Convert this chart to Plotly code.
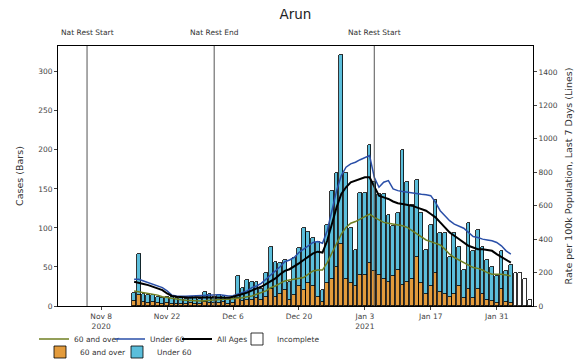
import pandas as pd
import plotly.graph_objects as go

# ---- data ----
bar_dates = pd.date_range("2020-11-15", "2021-02-03").strftime("%Y-%m-%d").tolist()
incomplete_dates = pd.date_range("2021-02-04", "2021-02-07").strftime("%Y-%m-%d").tolist()

over60_cases = [6, 14, 5, 4, 5, 4, 3, 4, 3, 3, 3, 2, 4, 3, 3, 5,
                4, 4, 4, 5, 3, 4, 10, 6, 8, 8, 10, 8, 12, 22, 12, 15, 20, 8, 14, 25, 20, 30, 25, 12, 5, 30, 35, 50, 80, 35, 30,
                25, 40, 40, 55, 45, 40, 35, 31, 38, 46, 27, 31, 35, 63, 30, 15, 25, 42, 18, 15, 12, 15, 25, 10, 22, 10, 22, 15, 8, 6, 4,
                22, 5, 4]
under60_cases = [11, 53, 10, 10, 9, 8, 7, 8, 9, 7, 7, 7, 8, 7, 6, 13,
                 11, 8, 10, 8, 7, 8, 29, 17, 25, 23, 21, 14, 30, 54, 45, 40, 39, 23, 47, 49, 80, 65, 62, 70, 16, 74, 112, 120, 242, 135, 70,
                 47, 105, 105, 151, 114, 104, 109, 86, 64, 73, 173, 128, 95, 98, 89, 57, 79, 94, 75, 78, 51, 78, 51, 36, 84, 60, 75, 61, 51, 44, 34,
                 48, 40, 49]
incomplete_cases = [42, 42, 34, 8]

rate_all = [145, 140, 132, 125, 115, 105, 95, 75, 60, 55, 52, 50, 50, 52, 52, 50,
            52, 54, 52, 50, 50, 55, 65, 72, 80, 95, 105, 115, 130, 145, 165, 190, 210, 220, 235, 255, 275, 295, 315, 325, 320, 390, 490, 590, 670, 710, 740,
            750, 760, 770, 770, 710, 660, 650, 640, 625, 615, 610, 605, 600, 590, 580, 570, 550, 530, 500, 470, 440, 420, 400, 375, 360, 350, 340, 340, 335, 330, 310,
            295, 280, 260]
rate_under60 = [160, 160, 150, 140, 130, 120, 110, 90, 65, 60, 58, 58, 60, 62, 62, 62,
                65, 70, 68, 64, 60, 62, 72, 80, 90, 110, 120, 135, 160, 180, 205, 235, 265, 275, 290, 320, 340, 360, 380, 385, 375, 450, 570, 690, 780, 830, 850,
                860, 875, 890, 900, 770, 710, 740, 750, 700, 690, 685, 680, 675, 670, 668, 665, 660, 620, 570, 540, 510, 490, 475, 465, 440, 415, 410, 400, 395, 390, 380,
                360, 330, 310]
rate_over60 = [90, 85, 80, 75, 70, 65, 55, 50, 45, 40, 38, 35, 32, 32, 30, 32,
               35, 38, 38, 40, 40, 42, 45, 50, 55, 60, 70, 80, 90, 110, 120, 135, 150, 155, 160, 165, 170, 190, 210, 215, 215, 260, 320, 380, 430, 470, 495,
               505, 520, 540, 550, 530, 515, 500, 495, 490, 485, 480, 470, 450, 430, 410, 395, 385, 375, 365, 340, 310, 290, 275, 255, 240, 230, 225, 215, 200, 190, 190,
               190, 185, 180]

events = [("2020-11-05", "Nat Rest Start"), ("2020-12-02", "Nat Rest End"), ("2021-01-05", "Nat Rest Start")]
tick_vals = ["2020-11-08", "2020-11-22", "2020-12-06", "2020-12-20", "2021-01-03", "2021-01-17", "2021-01-31"]
tick_text = ["Nov 8<br>2020", "Nov 22", "Dec 6", "Dec 20", "Jan 3<br>2021", "Jan 17", "Jan 31"]

# ---- styling ----
FONT = "DejaVu Sans"
ORANGE = "#e39b3c"
LIGHTBLUE = "#5bbedb"
BLUE = "#2a4fa8"
OLIVE = "#6f7f22"
DAY_MS = 86400000
bw = 0.8 * DAY_MS
W, H = 576, 364

fig = go.Figure()

fig.add_trace(go.Scatter(x=bar_dates, y=rate_over60, mode="lines", name="60 and over",
                         line=dict(color=OLIVE, width=1.5), yaxis="y2", legend="legend"))
fig.add_trace(go.Scatter(x=bar_dates, y=rate_under60, mode="lines", name="Under 60",
                         line=dict(color=BLUE, width=1.5), yaxis="y2", legend="legend2"))
fig.add_trace(go.Scatter(x=bar_dates, y=rate_all, mode="lines", name="All Ages",
                         line=dict(color="black", width=2), yaxis="y2", legend="legend3"))

fig.add_trace(go.Bar(x=incomplete_dates, y=incomplete_cases, name="Incomplete", width=bw,
                     marker=dict(color="white", line=dict(color="black", width=0.8)), legend="legend4"))
fig.add_trace(go.Bar(x=bar_dates, y=over60_cases, name="60 and over", width=bw,
                     marker=dict(color=ORANGE, line=dict(color="black", width=0.8)), legend="legend5"))
fig.add_trace(go.Bar(x=bar_dates, y=under60_cases, name="Under 60", width=bw,
                     marker=dict(color=LIGHTBLUE, line=dict(color="black", width=0.8)), legend="legend6"))

shapes = []
annotations = []
for d, label in events:
    shapes.append(dict(type="line", xref="x", yref="paper", x0=d, x1=d, y0=0, y1=1,
                       line=dict(color="#555555", width=1)))
    annotations.append(dict(x=d, y=1, xref="x", yref="paper", text=label, showarrow=False,
                            yanchor="bottom", yshift=7, font=dict(size=7.5, color="#333333", family=FONT)))


def leg(text_x, row_y):
    return dict(orientation="h", xref="container", yref="container",
                x=(text_x - 43) / W, y=1 - row_y / H, xanchor="left", yanchor="middle",
                font=dict(size=7.5, color="#333333"), bgcolor="rgba(0,0,0,0)", itemwidth=30)


fig.update_layout(
    width=W, height=H,
    margin=dict(l=58, r=43, t=46, b=58, autoexpand=False),
    paper_bgcolor="white", plot_bgcolor="white",
    font=dict(family=FONT, size=8, color="#333333"),
    title=dict(text="Arun", x=0.513, xanchor="center", y=0.975, yanchor="top",
               font=dict(size=13.5, color="#222222", family=FONT)),
    barmode="stack", bargap=0,
    showlegend=True,
    xaxis=dict(type="date", range=["2020-10-29 20:00", "2021-02-07 17:00"],
               tickvals=tick_vals, ticktext=tick_text, ticks="outside", ticklen=3,
               showgrid=False, showline=True, linecolor="black", linewidth=1, mirror=True,
               tickfont=dict(size=7.5, color="#444444")),
    yaxis=dict(range=[0, 333], tickvals=[0, 50, 100, 150, 200, 250, 300], ticks="outside", ticklen=3,
               showgrid=False, showline=True, linecolor="black", linewidth=1, zeroline=False,
               title=dict(text="Cases (Bars)", font=dict(size=9.5, color="#333333"), standoff=12),
               tickfont=dict(size=7.5, color="#444444")),
    yaxis2=dict(range=[0, 1555], tickvals=[0, 200, 400, 600, 800, 1000, 1200, 1400], overlaying="y", side="right",
                ticks="outside", ticklen=3, showgrid=False, showline=True, linecolor="black", linewidth=1,
                zeroline=False,
                title=dict(text="Rate per 100k Population, Last 7 Days (Lines)", font=dict(size=9.5, color="#333333"), standoff=8),
                tickfont=dict(size=7.5, color="#444444")),
    legend=leg(77, 339),
    legend2=leg(153, 339),
    legend3=leg(220, 339),
    legend4=leg(280, 339),
    legend5=leg(83, 352),
    legend6=leg(160, 352),
    shapes=shapes,
    annotations=annotations,
)

fig.write_html("out.html", config={"displayModeBar": False},
               post_script="document.body.style.margin='0';document.body.style.padding='0';")
